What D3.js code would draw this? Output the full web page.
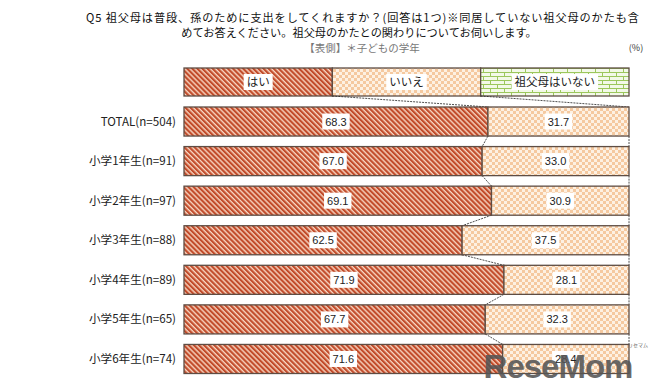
<!DOCTYPE html>
<html><head><meta charset="utf-8">
<script src="https://cdn.jsdelivr.net/npm/d3@7"></script>
<style>html,body{margin:0;padding:0;background:#fff;}</style>
</head><body><svg id="c" width="667" height="384"></svg>
<script>
const titleLines = ["Q5  祖父母は普段、孫のために支出をしてくれますか？(回答は1つ)※同居していない祖父母のかたも含", "めてお答えください。祖父母のかたとの関わりについてお伺いします。"];
const subTitle = "【表側】＊子どもの学年";
const unitLabel = "(%)";
const seriesNames = ["はい", "いいえ", "祖父母はいない"];
const categories = ["TOTAL(n=504)", "小学1年生(n=91)", "小学2年生(n=97)", "小学3年生(n=88)", "小学4年生(n=89)", "小学5年生(n=65)", "小学6年生(n=74)"];
const yesValues = [68.3, 67.0, 69.1, 62.5, 71.9, 67.7, 71.6];
const noValues = [31.7, 33.0, 30.9, 37.5, 28.1, 32.3, 28.4];
const noneValues = [0, 0, 0, 0, 0, 0, 0];

const svg = d3.select("#c");
const JP = "'Noto Sans CJK JP','Noto Sans',sans-serif";
const NUM = "'Liberation Sans',Arial,sans-serif";

// patterns
const defs = svg.append("defs");
const ps = defs.append("pattern").attr("id","pStripe").attr("patternUnits","userSpaceOnUse")
  .attr("width",3.6).attr("height",3.6).attr("patternTransform","rotate(-45)");
ps.append("rect").attr("width",3.6).attr("height",3.6).attr("fill","#f8d6c2");
ps.append("rect").attr("width",2.2).attr("height",3.6).attr("fill","#c24c2b");
const pc = defs.append("pattern").attr("id","pCheck").attr("patternUnits","userSpaceOnUse")
  .attr("width",6).attr("height",6);
pc.append("rect").attr("width",6).attr("height",6).attr("fill","#fdf1e3");
pc.append("rect").attr("width",3).attr("height",3).attr("fill","#f5c9a0");
pc.append("rect").attr("x",3).attr("y",3).attr("width",3).attr("height",3).attr("fill","#f5c9a0");
const pb = defs.append("pattern").attr("id","pBrick").attr("patternUnits","userSpaceOnUse")
  .attr("width",14).attr("height",8);
pb.append("rect").attr("width",14).attr("height",8).attr("fill","#f3f9e8");
pb.append("path").attr("d","M0,0.5H14M0,4.5H14M0.5,0.5V4.5M7.5,4.5V8.5")
  .attr("stroke","#9cc75c").attr("stroke-width",1).attr("fill","none");
const fills = ["url(#pStripe)","url(#pCheck)","url(#pBrick)"];

// titles
svg.append("text").attr("x",86).attr("y",22).attr("textLength",553).attr("lengthAdjust","spacing")
  .attr("font-family",JP).attr("font-size",11.2).attr("fill","#111").text(titleLines[0]);
svg.append("text").attr("x",359).attr("y",37).attr("text-anchor","middle")
  .attr("font-family",JP).attr("font-size",11.2).attr("fill","#111").text(titleLines[1]);
svg.append("text").attr("x",362).attr("y",51.5).attr("text-anchor","middle")
  .attr("font-family",JP).attr("font-size",10.5).attr("fill","#777").text(subTitle);
svg.append("text").attr("x",636).attr("y",51).attr("text-anchor","middle")
  .attr("font-family",JP).attr("font-size",9).attr("fill","#333").text(unitLabel);

const x = d3.scaleLinear().domain([0,100]).range([184,629]);
const y = d3.scaleBand().domain(categories).range([107,373.5]).paddingInner(0.266).paddingOuter(0);
const stroke = "#5e4d44";

// legend bar
const legY = 68, legH = 28;
const legX = d3.scaleLinear().domain([0,3]).range([184,629]);
seriesNames.forEach((n,i)=>{
  svg.append("rect").attr("x",legX(i)).attr("y",legY).attr("width",legX(i+1)-legX(i)).attr("height",legH)
    .attr("fill",fills[i]).attr("stroke",stroke).attr("stroke-width",1.3);
});
seriesNames.forEach((n,i)=>{
  const cx = (legX(i)+legX(i+1))/2;
  const t = svg.append("text").attr("x",cx).attr("y",legY+legH/2+4).attr("text-anchor","middle")
    .attr("font-family",JP).attr("font-size",11.5).attr("fill","#222").text(n);
  const bb = t.node().getBBox();
  svg.insert("rect", ()=>t.node()).attr("x",bb.x-3).attr("y",legY+6).attr("width",bb.width+6).attr("height",legH-12).attr("fill","#fff");
});

// data rows
const rows = categories.map((c,i)=>({cat:c, vals:[yesValues[i], noValues[i], noneValues[i]]}));
rows.forEach(r=>{
  let acc = 0;
  r.bounds = [0];
  r.vals.forEach(v=>{acc+=v; r.bounds.push(acc);});
});

// series lines
const sl = svg.append("g").attr("stroke","#222").attr("stroke-width",0.8).attr("stroke-dasharray","2,1").attr("fill","none");
[1,2].forEach(k=>{
  sl.append("line").attr("x1",legX(k)).attr("y1",legY+legH).attr("x2",x(rows[0].bounds[k])).attr("y2",y(categories[0]));
  for(let i=0;i<rows.length-1;i++){
    sl.append("line").attr("x1",x(rows[i].bounds[k])).attr("y1",y(categories[i])+y.bandwidth())
      .attr("x2",x(rows[i+1].bounds[k])).attr("y2",y(categories[i+1]));
  }
});

rows.forEach(r=>{
  const g = svg.append("g");
  r.vals.forEach((v,k)=>{
    if(v<=0) return;
    g.append("rect").attr("x",x(r.bounds[k])).attr("y",y(r.cat)).attr("width",x(r.bounds[k+1])-x(r.bounds[k]))
      .attr("height",y.bandwidth()).attr("fill",fills[k]).attr("stroke",stroke).attr("stroke-width",1.3);
  });
  r.vals.forEach((v,k)=>{
    if(v<=0) return;
    const cx = (x(r.bounds[k])+x(r.bounds[k+1]))/2;
    const cy = y(r.cat)+y.bandwidth()/2;
    const t = g.append("text").attr("x",cx).attr("y",cy+4).attr("text-anchor","middle")
      .attr("font-family",NUM).attr("font-size",11).attr("fill","#222").text(v.toFixed(1));
    const bb = t.node().getBBox();
    g.insert("rect", ()=>t.node()).attr("x",bb.x-3).attr("y",cy-8).attr("width",bb.width+6).attr("height",16).attr("fill","#fff");
  });
  svg.append("text").attr("x",176).attr("y",y(r.cat)+y.bandwidth()/2+4).attr("text-anchor","end")
    .attr("font-family",JP).attr("font-size",11.6).attr("fill","#222").text(r.cat);
});

// watermark
svg.append("text").attr("x",558).attr("y",378).attr("text-anchor","middle")
  .attr("font-family","'Liberation Sans',Arial,sans-serif").attr("font-weight","bold").attr("font-size",33)
  .attr("fill","#555").attr("opacity",0.88).attr("letter-spacing",-1).text("ReseMom");
svg.append("text").attr("x",638).attr("y",347).attr("text-anchor","middle")
  .attr("font-family",JP).attr("font-size",5).attr("fill","#666").text("リセマム");
</script></body></html>
